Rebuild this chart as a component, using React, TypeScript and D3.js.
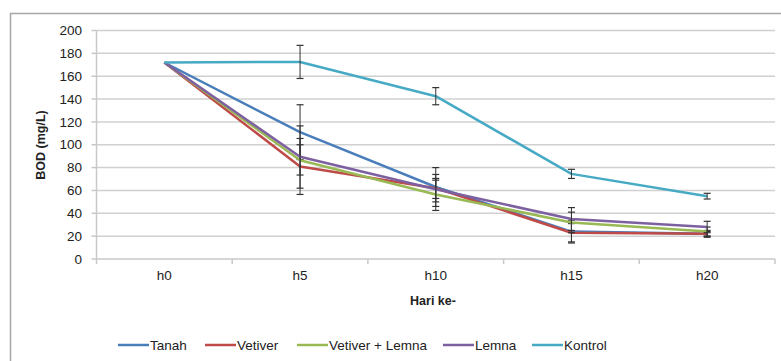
import React, { useEffect, useRef } from "react";
import * as d3 from "d3";

const days = ["h0", "h5", "h10", "h15", "h20"];
const seriesNames = ["Tanah", "Vetiver", "Vetiver + Lemna", "Lemna", "Kontrol"];
const seriesColors = ["#4a7ebb", "#be4b48", "#98b954", "#7d60a0", "#46aac5"];

const tanah = [172, 111, 63, 24, 22];
const vetiver = [172, 81, 62, 23, 22];
const vetiverLemna = [172, 86.5, 56.5, 32, 24];
const lemna = [172, 89.5, 61, 35, 28];
const kontrol = [172, 172.5, 142.5, 74.5, 55];

const tanahErr = [0, 24, 17, 10, 3];
const vetiverErr = [0, 19, 12, 8, 2];
const vetiverLemnaErr = [0, 30, 14, 9, 4];
const lemnaErr = [0, 16, 8, 10, 5];
const kontrolErr = [0, 14.5, 7.5, 4, 2.5];

const yTicks = [0, 20, 40, 60, 80, 100, 120, 140, 160, 180, 200];

const App: React.FC = () => {
  const svgRef = useRef<SVGSVGElement | null>(null);

  useEffect(() => {
    if (!svgRef.current) return;
    const width = 781;
    const height = 361;
    const margin = { top: 30.5, right: 6, bottom: 102, left: 96.5 };
    const font = "'Liberation Sans', Arial, sans-serif";

    const svg = d3.select(svgRef.current);
    svg.selectAll("*").remove();
    svg.attr("width", width).attr("height", height);

    svg.append("rect").attr("width", width).attr("height", height).attr("fill", "#fff");
    // chart frame
    svg.append("rect")
      .attr("x", 10.5).attr("y", 13.5)
      .attr("width", 820).attr("height", 400)
      .attr("fill", "none").attr("stroke", "#a6a6a6").attr("stroke-width", 1.5);

    const x = d3.scaleBand<string>().domain(days).range([margin.left, 775]);
    const y = d3.scaleLinear().domain([0, 200]).range([259, margin.top]);

    // gridlines
    svg.append("g")
      .selectAll("line")
      .data(yTicks.filter((t) => t > 0))
      .enter()
      .append("line")
      .attr("x1", margin.left).attr("x2", 775)
      .attr("y1", (d) => y(d)).attr("y2", (d) => y(d))
      .attr("stroke", "#d0d0d0").attr("stroke-width", 1.5);

    // y axis
    const yAxis = svg.append("g");
    yAxis.append("line")
      .attr("x1", margin.left).attr("x2", margin.left)
      .attr("y1", y(200)).attr("y2", y(0))
      .attr("stroke", "#c8c8c8").attr("stroke-width", 1.5);
    yAxis.selectAll("line.tick")
      .data(yTicks)
      .enter()
      .append("line")
      .attr("class", "tick")
      .attr("x1", margin.left - 5).attr("x2", margin.left)
      .attr("y1", (d) => y(d)).attr("y2", (d) => y(d))
      .attr("stroke", "#c8c8c8").attr("stroke-width", 1.5);
    yAxis.selectAll("text")
      .data(yTicks)
      .enter()
      .append("text")
      .attr("x", 82).attr("y", (d) => y(d))
      .attr("dy", "0.35em")
      .attr("text-anchor", "end")
      .style("font-family", font).style("font-size", "13.5px").attr("fill", "#222")
      .text((d) => d);

    // x axis
    const xAxis = svg.append("g");
    xAxis.append("line")
      .attr("x1", margin.left).attr("x2", 775)
      .attr("y1", y(0)).attr("y2", y(0))
      .attr("stroke", "#c8c8c8").attr("stroke-width", 1.5);
    const bounds = days.map((d) => x(d)!).concat([775]);
    xAxis.selectAll("line.tick")
      .data(bounds)
      .enter()
      .append("line")
      .attr("class", "tick")
      .attr("x1", (d) => d).attr("x2", (d) => d)
      .attr("y1", y(0)).attr("y2", y(0) + 5)
      .attr("stroke", "#c8c8c8").attr("stroke-width", 1.5);
    xAxis.selectAll("text")
      .data(days)
      .enter()
      .append("text")
      .attr("x", (d) => x(d)! + x.bandwidth() / 2)
      .attr("y", 280)
      .attr("text-anchor", "middle")
      .style("font-family", font).style("font-size", "13.5px").attr("fill", "#222")
      .text((d) => d);

    // axis titles
    svg.append("text")
      .attr("x", 433).attr("y", 305)
      .attr("text-anchor", "middle")
      .style("font-family", font).style("font-size", "12.5px").style("font-weight", "bold")
      .attr("fill", "#222")
      .text("Hari ke-");
    svg.append("text")
      .attr("transform", "translate(45,145) rotate(-90)")
      .attr("text-anchor", "middle")
      .style("font-family", font).style("font-size", "12.5px").style("font-weight", "bold")
      .attr("fill", "#222")
      .text("BOD (mg/L)");

    const allValues = [tanah, vetiver, vetiverLemna, lemna, kontrol];
    const allErrors = [tanahErr, vetiverErr, vetiverLemnaErr, lemnaErr, kontrolErr];
    const cx = (i: number) => x(days[i])! + x.bandwidth() / 2;

    const line = d3.line<number>()
      .x((_, i) => cx(i))
      .y((d) => y(d));

    allValues.forEach((vals, s) => {
      svg.append("path")
        .attr("d", line(vals) ?? "")
        .attr("fill", "none")
        .attr("stroke", seriesColors[s])
        .attr("stroke-width", 2.5)
        .attr("stroke-linejoin", "round");

      const eb = svg.append("g");
      vals.forEach((v, i) => {
        const e = allErrors[s][i];
        if (!e) return;
        const px = cx(i);
        eb.append("line")
          .attr("x1", px).attr("x2", px)
          .attr("y1", y(v + e)).attr("y2", y(v - e))
          .attr("stroke", "#333").attr("stroke-width", 1);
        [v + e, v - e].forEach((c) => {
          eb.append("line")
            .attr("x1", px - 3.5).attr("x2", px + 3.5)
            .attr("y1", y(c)).attr("y2", y(c))
            .attr("stroke", "#333").attr("stroke-width", 1.2);
        });
      });
    });

    // legend
    const legendX = [118, 205, 297, 443, 532];
    const legend = svg.append("g");
    seriesNames.forEach((name, s) => {
      legend.append("line")
        .attr("x1", legendX[s]).attr("x2", legendX[s] + 31)
        .attr("y1", 345).attr("y2", 345)
        .attr("stroke", seriesColors[s]).attr("stroke-width", 2.5);
      legend.append("text")
        .attr("x", legendX[s] + 32).attr("y", 345)
        .attr("dy", "0.35em")
        .style("font-family", font).style("font-size", "13.5px").attr("fill", "#222")
        .text(name);
    });
  }, []);

  return (
    <svg ref={svgRef} style={{ position: "absolute", left: 0, top: 0, display: "block" }}></svg>
  );
};

export default App;
